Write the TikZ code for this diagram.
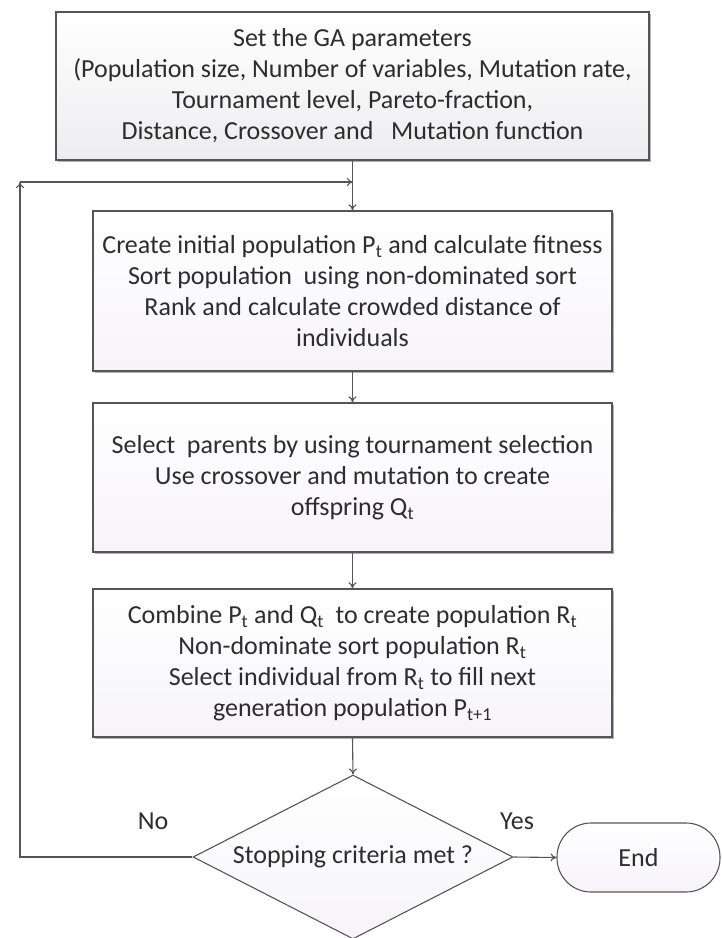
\documentclass[tikz,border=0pt]{standalone}
\usepackage{fontspec}
\setmainfont{Carlito}
\usetikzlibrary{shapes.geometric,shadows,arrows.meta,calc}
\definecolor{linec}{RGB}{85,85,85}
\definecolor{textc}{RGB}{45,45,45}
\definecolor{boxbot}{RGB}{246,244,249}
\definecolor{boxbotA}{RGB}{237,237,239}
\tikzset{
  stepbox/.style={draw=linec, line width=1.4pt, shade, top color=white, bottom color=boxbot,
    drop shadow={shadow xshift=1.8pt, shadow yshift=-2.2pt, opacity=0.3, fill=black},
    align=center, text=textc, font=\fontsize{26}{31}\selectfont, inner sep=2pt},
  flow/.style={draw=linec, line width=1.1pt, -{To[length=6pt,width=8pt]}},
  lbl/.style={text=textc, font=\fontsize{26}{30}\selectfont},
}
\newcommand{\sbs}[1]{\textsubscript{#1}}
\begin{document}
\begin{tikzpicture}[x=1pt,y=-1pt]
\useasboundingbox (0,0) rectangle (722,938);
\node[stepbox, minimum width=593pt, minimum height=148pt, bottom color=boxbotA] (b1) at (352.5,86)
  {Set the GA parameters\\(Population size, Number of variables, Mutation rate,\\Tournament level, Pareto-fraction,\\Distance, Crossover and \ \ Mutation function};
\node[stepbox, minimum width=519pt, minimum height=160pt] (b2) at (352.5,291)
  {Create initial population P\sbs{t} and calculate fitness\\Sort population \ using non-dominated sort\\Rank and calculate crowded distance of\\individuals};
\node[stepbox, minimum width=519pt, minimum height=149pt] (b3) at (352.5,477.5)
  {Select \ parents by using tournament selection\\Use crossover and mutation to create\\offspring Q\sbs{t}};
\node[stepbox, minimum width=519pt, minimum height=148pt] (b4) at (352.5,663)
  {Combine P\sbs{t} and Q\sbs{t} \ to create population R\sbs{t}\\Non-dominate sort population R\sbs{t}\\Select individual from R\sbs{t} to fill next\\generation population P\sbs{t+1}};
\node[diamond, aspect=1.95, draw=linec, line width=1.1pt, shade, top color=white, bottom color=boxbot,
  minimum width=320pt, minimum height=164pt, inner sep=0pt, text=textc,
  font=\fontsize{26}{30}\selectfont] (dia) at (353,857) {Stopping criteria met ?};
\node[draw=linec, line width=1.1pt, shade, top color=white, bottom color=boxbot, rounded corners=34pt,
  minimum width=163pt, minimum height=69pt, text=textc, font=\fontsize{26}{30}\selectfont] (end) at (638.5,857.5) {End};
\coordinate (j) at (353,182);
\coordinate (c) at (20,182);
\coordinate (cb) at (20,857);
\draw[flow] (b1.south) -- (b2.north);
\draw[flow] (dia.west) -- (cb) -- (c);
\draw[flow] (c) -- (j);
\draw[flow] (b2.south) -- (b3.north);
\draw[flow] (b3.south) -- (b4.north);
\draw[flow] (b4.south) -- (dia.north);
\draw[flow] (dia.east) -- (end.west);
\node[lbl] (no) at (153,821) {No};
\node[lbl] (yes) at (517,821) {Yes};
\end{tikzpicture}
\end{document}
